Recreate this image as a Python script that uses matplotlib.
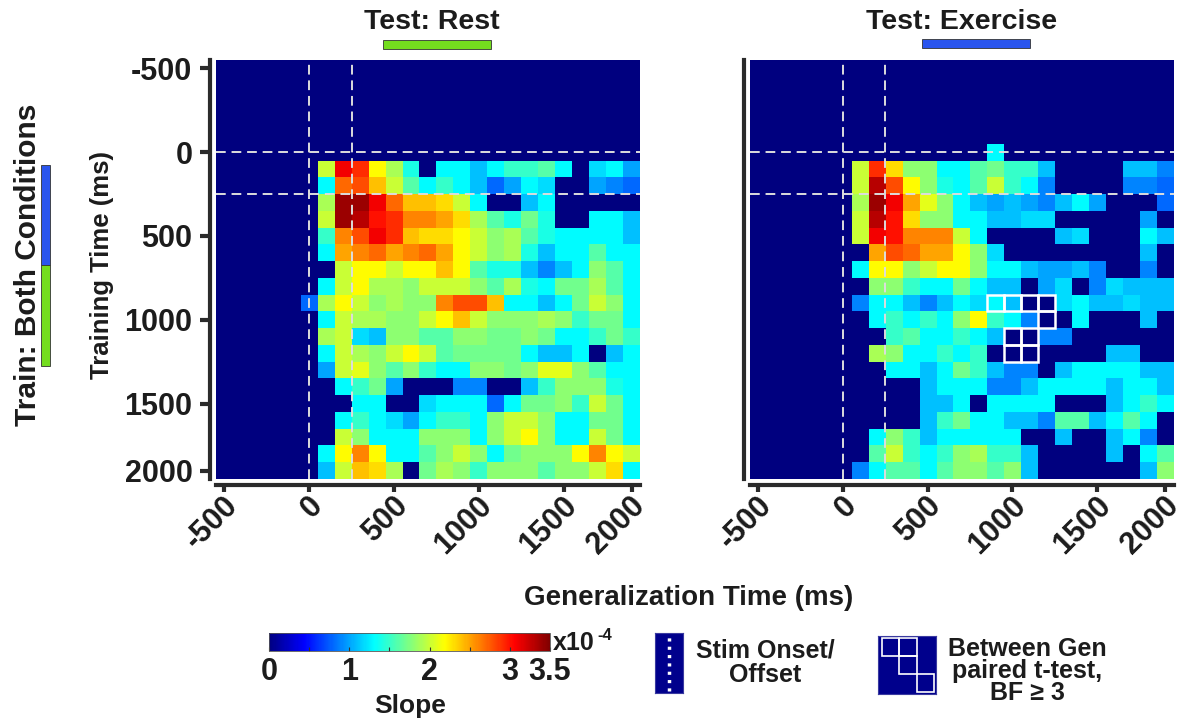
import numpy as np
import matplotlib.pyplot as plt
import matplotlib.transforms as mtransforms
from matplotlib.colors import LinearSegmentedColormap
from matplotlib.patches import Rectangle

plt.rcParams['font.family'] = ['Liberation Sans', 'DejaVu Sans']
plt.rcParams['font.weight'] = 'bold'
TXT = '#1c1c1c'

# 100 ms bins, -500 .. 1900 ms
times = np.arange(-500, 2000, 100)
tick_pos = [-500, 0, 500, 1000, 1500, 1900]
tick_labels = ['-500', '0', '500', '1000', '1500', '2000']
stim_lines = [0, 250]

# slope (x1e-4); rows = training time 0..1900 ms, cols = generalization time 0..1900 ms
# (all pre-stimulus bins are zero)
rest = [
    [0, 0, 0, 0, 0, 0, 0, 0, 0, 0, 0, 0, 0, 0, 0, 0, 0, 0, 0, 0],
    [0, 2.0, 3.1, 2.9, 2.2, 1.9, 1.4, 0, 1.3, 1.3, 1.1, 1.3, 1.5, 1.5, 1.6, 1.3, 0, 1.2, 1.3, 1.0],
    [0, 1.3, 2.7, 2.8, 2.4, 2.0, 1.6, 1.3, 1.5, 1.3, 1.1, 0.8, 1.0, 1.3, 1.2, 0, 0, 1.0, 0.9, 0.8],
    [0, 1.9, 3.4, 3.4, 3.1, 2.7, 2.4, 2.4, 2.3, 2.0, 1.3, 0, 0, 1.1, 1.3, 0, 0, 0, 0, 0],
    [0, 2.0, 3.4, 3.3, 3.0, 2.9, 2.6, 2.6, 2.5, 2.3, 1.9, 1.6, 1.4, 1.7, 1.4, 0, 0, 1.3, 1.3, 1.1],
    [0, 1.5, 2.6, 2.8, 3.1, 2.9, 2.4, 2.3, 2.3, 2.2, 2.0, 1.8, 1.9, 1.6, 1.4, 1.3, 1.3, 1.3, 1.3, 1.1],
    [0, 1.3, 2.5, 2.6, 2.7, 2.5, 2.6, 2.7, 2.5, 2.2, 2.0, 1.8, 1.9, 1.4, 1.1, 1.3, 1.3, 1.6, 1.3, 1.3],
    [0, 0, 2.0, 2.2, 2.2, 2.0, 2.2, 2.2, 2.4, 2.2, 1.6, 1.4, 1.4, 1.1, 0.9, 1.1, 1.3, 1.8, 1.6, 1.3],
    [0, 1.3, 2.0, 2.2, 1.9, 1.9, 1.8, 2.0, 2.0, 2.0, 1.8, 1.6, 1.9, 1.4, 1.3, 1.7, 1.7, 1.9, 1.6, 1.3],
    [0.8, 1.9, 2.2, 2.0, 1.8, 1.9, 1.8, 1.8, 2.6, 2.8, 2.8, 2.4, 1.3, 1.3, 1.1, 1.3, 1.7, 2.0, 1.8, 1.3],
    [0, 1.3, 2.0, 1.9, 1.9, 1.8, 1.8, 2.0, 2.2, 2.4, 2.0, 1.8, 1.8, 1.8, 1.9, 1.8, 1.5, 1.7, 1.7, 1.3],
    [0, 1.9, 2.0, 1.2, 1.1, 1.8, 1.8, 1.6, 1.6, 1.8, 1.8, 1.7, 1.7, 1.8, 1.7, 1.3, 1.3, 1.5, 1.7, 1.5],
    [0, 1.3, 2.0, 1.9, 1.8, 2.0, 2.2, 2.0, 1.6, 1.7, 1.7, 1.7, 1.7, 1.3, 1.1, 1.1, 1.3, 0, 1.1, 1.3],
    [0, 1.0, 2.0, 2.1, 1.8, 1.6, 1.8, 1.5, 1.3, 1.3, 1.8, 1.8, 1.7, 1.8, 2.1, 2.1, 1.8, 1.6, 1.3, 1.3],
    [0, 0, 1.3, 1.5, 1.7, 1.0, 0, 0, 0, 0.9, 0.9, 0, 0, 1.1, 1.5, 1.8, 1.8, 1.8, 1.4, 1.3],
    [0, 0, 0, 1.3, 1.3, 0, 0, 1.2, 1.3, 1.3, 1.3, 0.8, 1.3, 1.7, 1.7, 1.8, 1.5, 2.0, 1.7, 1.3],
    [0, 0, 1.3, 1.5, 1.3, 1.2, 1.0, 1.3, 1.5, 1.5, 1.3, 1.8, 2.0, 2.0, 1.8, 1.3, 1.3, 1.7, 1.7, 1.3],
    [0, 0, 2.0, 1.8, 1.3, 1.3, 1.3, 1.8, 1.8, 1.8, 1.3, 1.8, 2.0, 2.2, 1.8, 1.3, 1.3, 2.0, 1.7, 1.3],
    [0, 1.3, 2.2, 2.6, 2.2, 1.3, 1.3, 1.6, 1.8, 2.0, 1.8, 1.3, 1.7, 1.8, 1.8, 1.8, 2.2, 2.6, 2.2, 2.0],
    [0, 1.1, 2.0, 2.4, 2.3, 1.9, 0, 1.7, 1.9, 1.8, 1.5, 1.8, 1.8, 1.8, 1.6, 1.8, 1.8, 2.0, 2.3, 1.3],
]

exercise = [
    [0, 0, 0, 0, 0, 0, 0, 0, 0, 1.3, 0, 0, 0, 0, 0, 0, 0, 0, 0, 0],
    [0, 2.0, 2.9, 2.3, 1.8, 1.8, 1.3, 1.3, 1.6, 1.7, 1.5, 1.5, 1.1, 0, 0, 0, 0, 1.1, 1.1, 0.9],
    [0, 2.0, 3.3, 2.8, 2.2, 1.8, 1.4, 1.3, 1.6, 2.0, 1.5, 1.3, 0.9, 0, 0, 0, 0, 0.9, 0.9, 0.8],
    [0, 1.9, 3.4, 3.1, 2.5, 2.1, 1.8, 1.3, 1.1, 1.0, 1.1, 1.0, 0.9, 1.1, 1.3, 1.0, 0, 0, 0, 0.8],
    [0, 2.0, 3.3, 3.0, 2.3, 1.8, 1.8, 1.3, 1.3, 1.1, 1.1, 1.2, 1.2, 0, 0, 0, 0, 0, 1.0, 0],
    [0, 2.0, 3.1, 3.0, 2.6, 2.6, 2.6, 2.0, 1.3, 0, 0, 0, 0, 1.1, 1.2, 0, 0, 0, 1.3, 1.1],
    [0, 0, 2.5, 2.8, 2.7, 2.5, 2.5, 2.2, 1.8, 1.2, 0, 0, 0, 0, 0, 0, 0, 0, 1.1, 0],
    [0, 1.3, 2.2, 2.2, 1.8, 2.0, 2.2, 2.2, 1.8, 1.3, 1.3, 1.1, 1.0, 1.0, 1.1, 0.9, 0, 0, 0.9, 0],
    [0, 0, 1.8, 1.8, 1.5, 1.3, 1.3, 1.7, 1.3, 1.1, 1.1, 0, 1.0, 1.2, 0, 0.9, 1.2, 1.1, 1.1, 1.1],
    [0, 0.9, 1.3, 1.3, 1.1, 0.9, 1.1, 1.3, 1.2, 1.3, 1.1, 0, 0, 1.2, 1.3, 1.1, 1.1, 1.2, 1.1, 1.1],
    [0, 0, 1.3, 1.5, 1.3, 1.5, 1.3, 1.8, 2.2, 1.5, 1.3, 0.9, 0, 0, 1.3, 0, 0, 0, 1.1, 0],
    [0, 0, 0, 1.5, 1.6, 1.3, 1.3, 1.5, 1.3, 1.1, 0, 0, 0.9, 0.9, 0, 0, 0, 0, 0, 0],
    [0, 0, 1.9, 1.8, 1.3, 1.3, 1.5, 1.3, 1.5, 0, 0, 0, 0, 0, 0, 0, 1.1, 1.1, 0, 0],
    [0, 0, 0, 1.3, 1.3, 1.1, 1.3, 1.7, 1.5, 1.1, 0.9, 0.9, 0, 1.1, 1.3, 1.3, 1.3, 1.3, 1.1, 1.1],
    [0, 0, 0, 0, 0, 1.1, 1.3, 1.3, 1.3, 0.9, 0.9, 1.1, 1.3, 1.3, 1.3, 1.3, 1.1, 1.3, 1.3, 1.1],
    [0, 0, 0, 0, 0, 1.1, 1.1, 1.3, 0, 1.3, 1.3, 1.3, 1.3, 0, 0, 0, 1.1, 1.3, 1.5, 1.3],
    [0, 0, 0, 0, 0, 1.1, 1.5, 1.7, 1.3, 1.3, 1.1, 1.1, 0.9, 1.6, 1.6, 1.1, 1.3, 1.6, 1.3, 0],
    [0, 0, 1.3, 1.8, 1.5, 1.1, 1.3, 1.3, 1.3, 1.3, 1.3, 0, 0, 1.1, 0, 0, 1.1, 1.3, 0.9, 0],
    [0, 0, 1.6, 2.0, 1.5, 1.3, 1.5, 1.8, 1.9, 1.5, 1.5, 1.1, 0, 0, 0, 0, 1.1, 0, 1.3, 1.6],
    [0, 0.9, 1.3, 1.6, 1.6, 1.3, 1.6, 1.8, 1.8, 1.6, 1.8, 1.1, 0, 0, 0, 0, 0, 0, 1.1, 1.8],
]

# (training ms, generalization ms) bins with BF >= 3 between conditions
sig_cells = [(900, 900), (900, 1000), (900, 1100), (900, 1200), (1000, 1200),
             (1100, 1000), (1100, 1100), (1200, 1000), (1200, 1100)]

vmin, vmax = 0, 3.5
# classic MATLAB-style jet
jet = LinearSegmentedColormap.from_list('mjet', [
    (0.0, (0, 0, 0.5)), (0.125, (0, 0, 1)), (0.375, (0, 1, 1)),
    (0.625, (1, 1, 0)), (0.875, (1, 0, 0)), (1.0, (0.5, 0, 0))])

W, H = 1181, 724
fig = plt.figure(figsize=(W / 100, H / 100), dpi=100)


def px_axes(x0, y0, x1, y1):
    return fig.add_axes([x0 / W, 1 - y1 / H, (x1 - x0) / W, (y1 - y0) / H])


def full_grid(block):
    grid = np.zeros((len(times), len(times)))
    i0 = np.searchsorted(times, 0)
    grid[i0:, i0:] = np.array(block)
    return grid


half = 50
extent = (times[0] - half, times[-1] + half, times[-1] + half, times[0] - half)
shift = mtransforms.ScaledTranslation(9 / 100, 0, fig.dpi_scale_trans)


def draw_panel(ax, grid, show_y):
    im = ax.imshow(grid, cmap=jet, vmin=vmin, vmax=vmax, extent=extent,
                   aspect='auto', interpolation='nearest')
    for t in stim_lines:
        ax.axvline(t, color='#dddddd', lw=1.4, ls=(0, (5, 3)))
        ax.axhline(t, color='#dddddd', lw=1.4, ls=(0, (5, 3)))
    for s in ['top', 'right']:
        ax.spines[s].set_visible(False)
    for s in ['left', 'bottom']:
        ax.spines[s].set_position(('outward', 4))
        ax.spines[s].set_linewidth(3)
        ax.spines[s].set_color('#2b2b2b')
        ax.spines[s].set_capstyle('projecting')
    ax.set_xticks(tick_pos)
    ax.set_yticks(tick_pos)
    ax.tick_params(axis='x', direction='out', length=5, width=3, color='#2b2b2b', pad=7)
    if show_y:
        ax.tick_params(axis='y', direction='out', length=7, width=3, color='#2b2b2b', pad=6)
        ax.set_yticklabels(tick_labels, fontsize=22, color=TXT)
    else:
        ax.tick_params(axis='y', length=0, labelleft=False)
    ax.set_xticklabels(tick_labels, rotation=45, ha='right', va='center',
                       rotation_mode='anchor', fontsize=22, color=TXT)
    # nudge the slanted labels to the right of their ticks
    for lbl in ax.get_xticklabels():
        lbl.set_transform(lbl.get_transform() + shift)
    return im


ax_rest = px_axes(216, 60, 640, 479)
im = draw_panel(ax_rest, full_grid(rest), True)
ax_ex = px_axes(749.5, 60, 1173.5, 479)
draw_panel(ax_ex, full_grid(exercise), False)

for tr, ge in sig_cells:
    ax_ex.add_patch(Rectangle((ge - half, tr - half), 100, 100, fill=False,
                              ec='white', lw=1.8, zorder=5))

# titles with condition colour bars
fig.text(432 / W, 1 - 22 / H, 'Test: Rest', ha='center', va='center', fontsize=20.5, color=TXT)
fig.text(961.5 / W, 1 - 22 / H, 'Test: Exercise', ha='center', va='center', fontsize=20.5, color=TXT)
green, blue = '#74dd1e', '#2a55ee'
fig.patches.append(Rectangle((383 / W, 1 - 49 / H), 108 / W, 9 / H, transform=fig.transFigure,
                             fc=green, ec='#333333', lw=0.6))
fig.patches.append(Rectangle((922 / W, 1 - 48 / H), 108 / W, 9 / H, transform=fig.transFigure,
                             fc=blue, ec='#333333', lw=0.6))
fig.patches.append(Rectangle((41 / W, 1 - 265 / H), 9 / W, 100 / H, transform=fig.transFigure,
                             fc=blue, ec='#333333', lw=0.6))
fig.patches.append(Rectangle((41 / W, 1 - 366 / H), 9 / W, 101 / H, transform=fig.transFigure,
                             fc=green, ec='#333333', lw=0.6))

fig.text(28 / W, 1 - 265 / H, 'Train: Both Conditions', rotation=90, ha='center', va='center',
         fontsize=21.5, color=TXT)
fig.text(102 / W, 1 - 265 / H, 'Training Time (ms)', rotation=90, ha='center', va='center',
         fontsize=18.5, color=TXT)
fig.text(689 / W, 1 - 598 / H, 'Generalization Time (ms)', ha='center', va='center',
         fontsize=20, color=TXT)

# colour bar
cax = px_axes(269, 633, 550, 651)
cb = fig.colorbar(im, cax=cax, orientation='horizontal')
cb.outline.set_linewidth(0.6)
cb.outline.set_edgecolor('#555555')
cb_ticks = np.arange(0, 3.51, 0.5)
cax.set_xticks(cb_ticks)
cax.set_xticklabels(['0', '', '1', '', '2', '', '3', '3.5'], fontsize=22, color=TXT)
cax.tick_params(axis='x', direction='in', length=3, width=0.8, color='#333333', pad=4)
fig.text(553 / W, 1 - 643 / H, 'x10', ha='left', va='center', fontsize=18, color=TXT)
fig.text(597 / W, 1 - 636 / H, '-4', ha='left', va='center', fontsize=12, color=TXT)
fig.text(410 / W, 1 - 706 / H, 'Slope', ha='center', va='center', fontsize=19, color=TXT)

# legend: stimulus onset/offset marker
lax1 = px_axes(655, 633, 683, 693)
lax1.set_facecolor('#00008c')
lax1.plot([0.5, 0.5], [0.04, 0.97], color='white', lw=2.5, ls=(0, (0.9, 1.5)),
          transform=lax1.transAxes)
lax1.set_xticks([])
lax1.set_yticks([])
for s in lax1.spines.values():
    s.set_edgecolor('#3a3aa0')
fig.text(765 / W, 1 - 663 / H, 'Stim Onset/\nOffset', ha='center', va='center',
         fontsize=18, color=TXT, linespacing=1.0)

# legend: significant cell outlines
lax2 = px_axes(878, 636, 936, 694)
lax2.set_facecolor('#00008c')
for x0, y0 in [(0.07, 0.66), (0.37, 0.66), (0.37, 0.35), (0.67, 0.04)]:
    lax2.add_patch(Rectangle((x0, y0), 0.3, 0.3, fill=False, ec='white', lw=1.2,
                             transform=lax2.transAxes))
lax2.set_xticks([])
lax2.set_yticks([])
for s in lax2.spines.values():
    s.set_edgecolor('#3a3aa0')
fig.text(1027 / W, 1 - 671 / H, 'Between Gen\npaired t-test,\nBF \u2265 3', ha='center',
         va='center', fontsize=18, color=TXT, linespacing=0.9)

fig.savefig('out.png', dpi=100)
